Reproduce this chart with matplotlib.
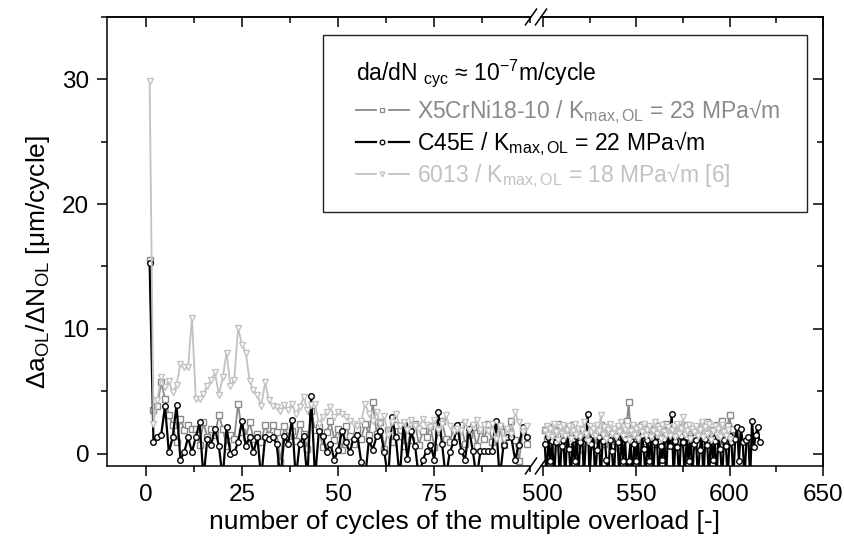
import numpy as np
import matplotlib
matplotlib.use('Agg')
import matplotlib.pyplot as plt
from matplotlib.lines import Line2D
from matplotlib.patches import Rectangle
from matplotlib.ticker import MultipleLocator, FixedLocator

plt.rcParams['font.family'] = ['Liberation Sans', 'DejaVu Sans']
plt.rcParams['mathtext.fontset'] = 'custom'
plt.rcParams['mathtext.rm'] = 'Liberation Sans'
plt.rcParams['mathtext.it'] = 'Liberation Sans:italic'
plt.rcParams['mathtext.bf'] = 'Liberation Sans:bold'

# ---------------- data ----------------
# first segment: cycles 1..99
x5_1 = [15.5, 3.5, 3.8, 5.7, 4.4, 3.1, 2.3, 0.9, 2.8, 1.9,
        2.3, 2.0, 2.0, 0.7, 2.5, 1.3, 2.0, 1.5, 3.1, 2.0,
        0.6, 1.5, 1.2, 4.0, 1.7, 1.3, 2.5, 1.2, 1.6, 0.9,
        2.3, 1.5, 2.3, 1.7, -0.7, 2.2, 1.4, 1.8, 1.0, 2.4,
        1.6, 0.4, 3.4, 1.9, 2.1, 0.5, 1.7, 2.6, 1.1, 2.0,
        0.3, 2.2, 1.4, 0.8, 2.0, 1.2, 2.4, 1.5, 4.1, 1.6,
        2.5, 0.4, 1.9, 0.9, 2.3, 1.4, 0.6, 2.0, 1.1, 2.4,
        0.7, 1.8, 1.3, 2.2, 0.5, 1.7, 2.6, 1.2, 0.9, 2.0,
        1.4, 2.3, 0.8, 1.5, 2.1, 0.6, 1.9, 1.2, 2.4, 0.9,
        1.6, 2.2, 0.7, 1.8, 2.6, 1.1, -0.6, 1.9, 0.8]
c45_1 = [15.3, 0.9, 1.3, 1.5, 3.8, 0.1, 1.3, 3.9, -0.5, 0.1,
         1.3, 0.1, 1.3, 2.5, -2, 1.2, 0.7, 2.0, 0.6, -2,
         2.1, 0.0, 0.1, 0.9, 2.6, 0.6, 1.3, 0.1, 1.3, -2,
         1.3, 1.2, 1.3, 0.8, -2, 1.4, 0.8, 2.7, -2, 0.8,
         1.4, -2, 4.6, -2, 1.8, 1.4, 0.1, 0.8, -0.5, 0.3,
         1.8, 0.9, 0.1, 1.2, 1.5, -0.7, -2, 1.1, 0.3, 1.4,
         1.8, 0.1, -2, 2.9, 1.3, -2, 2.4, -0.4, 1.8, 0.6,
         -2, -0.5, 0.2, 0.7, -0.5, 3.3, 0.8, -2, 0.1, 0.9,
         2.3, 0.2, -0.5, 2.0, 0.2, -2, 0.2, 0.2, 0.2, 0.2,
         2.6, -2, 0.7, 1.3, 1.3, -0.5, 0.7, 2.1, 1.3]
al_1 = [29.9, 2.4, 4.3, 6.1, 5.3, 5.8, 4.9, 5.5, 7.2, 6.9,
        6.9, 10.9, 4.4, 4.4, 4.8, 5.4, 5.9, 6.5, 4.7, 6.1,
        8.1, 5.4, 5.9, 10.1, 8.7, 8.1, 5.8, 5.1, 4.7, 3.8,
        5.7, 4.3, 3.8, 3.7, 3.4, 3.9, 3.5, 4.0, 3.2, 3.7,
        4.5, 3.5, 3.9, 4.0, 2.4, 2.9, 3.3, 3.7, 2.9, 3.3,
        3.2, 2.9, 2.6, 2.4, 2.2, 2.6, 4.0, 3.2, 2.6, 3.3,
        2.4, 3.0, 1.5, 2.5, 3.2, 2.2, 2.5, 1.9, 2.7, 2.2,
        2.0, 2.8, 2.3, 2.1, 2.7, 1.9, 2.4, 3.1, 2.2, 1.8,
        2.0, 1.8, 2.5, 1.9, 2.3, 2.7, 1.9, 2.3, 1.8, 2.4,
        1.2, 2.2, 1.2, 2.0, 1.6, 3.3, 2.5, 1.7, 2.2]

# second segment: cycles from 501
x5_2 = [1.9, 1.2, 2.1, 0.6, 1.5, 2.0, 1.1, 2.4, 0.9, 1.7,
        2.2, 0.5, 1.4, 1.9, 1.0, 2.3, 0.7, 1.6, 2.0, 1.2,
        0.4, 1.8, 2.2, 1.3, 0.9, 2.0, 1.5, 0.6, 1.9, 1.1,
        2.3, 1.4, 0.8, 1.7, 2.1, 1.0, 1.6, 0.5, 2.0, 1.3,
        1.8, 0.7, 2.2, 1.5, 2.6, 4.1, 1.2, 0.9, 1.8, 2.1,
        0.6, 1.5, 2.3, 1.0, 1.7, 0.4, 2.0, 1.3, 1.8, 0.8,
        2.2, 1.4, 0.9, 1.9, 1.1, 2.4, 0.7, 1.6, 2.0, 1.2,
        1.7, 0.5, 2.1, 1.4, 0.9, 1.8, 2.3, 1.0, 1.5, 0.6,
        2.0, 1.3, 1.7, 0.8, 2.2, 1.1, 1.6, 2.5, 0.9, 1.4,
        1.9, 0.7, 2.3, 1.2, 1.6, 2.6, 1.0, 1.8, 2.2, 3.1,
        1.4, 2.0]
c45_2 = [0.8, -2, 1.3, -0.6, 1.0, -2, 0.9, 1.5, -2, 0.6,
         1.1, -2, 1.6, 0.4, -2, 1.2, -0.6, 1.4, -2, 0.9,
         1.7, -2, 1.2, 3.2, -2, 0.8, 1.5, -2, 0.3, 1.3,
         -2, 1.0, 1.6, -0.5, -2, 1.1, 0.2, -2, 1.4, 0.9,
         -2, 1.7, -0.6, 1.2, -2, -0.6, 1.0, -2, 0.8, -0.6,
         1.3, -2, 1.5, 0.4, -2, 1.1, -0.6, 1.6, -2, 0.9,
         1.4, -2, 0.6, -0.5, 1.2, -2, 1.8, 0.6, 3.2, -2,
         1.0, 0.5, -2, 1.4, 0.9, -2, 1.3, -0.6, 1.6, -2,
         0.8, 1.1, -2, 0.3, 1.5, -2, 1.2, 0.7, -2, 1.6,
         -0.5, 1.0, -2, 1.3, 0.4, -2, 1.1, 0.6, -2, 1.4,
         0.9, -2, 1.2, 2.1, -0.6, 2.0, 0.9, -2, 1.1, 1.3,
         -2, 2.6, 0.5, 1.5, 2.1, 0.9]
al_2 = [1.8, 2.2, 1.5, 2.0, 1.3, 2.4, 1.7, 1.1, 2.1, 1.6,
        2.3, 1.4, 1.9, 2.2, 1.2, 1.8, 2.4, 1.5, 2.0, 1.3,
        1.9, 2.5, 1.6, 1.0, 2.2, 1.7, 2.0, 1.4, 2.3, 1.8,
        3.1, 1.5, 2.1, 1.2, 1.9, 2.4, 1.6, 2.0, 1.3, 2.2,
        1.7, 2.5, 1.4, 1.9, 2.2, 1.1, 1.8, 2.3, 1.5, 2.0,
        1.2, 2.1, 1.7, 2.4, 1.4, 1.9, 2.2, 1.3, 1.8, 2.5,
        1.6, 2.0, 1.2, 2.3, 1.7, 1.5, 2.1, 1.4, 1.9, 2.2,
        1.3, 2.4, 1.6, 2.0, 2.9, 1.5, 1.8, 2.3, 1.2, 2.0,
        1.7, 2.2, 1.4, 1.9, 2.5, 1.3, 2.1, 1.6, 2.4, 1.1,
        1.8, 2.2, 1.5, 2.0, 1.3, 2.3, 1.7, 1.4, 1.9, 1.2]

seg1_start = 1
seg2_start = 501

labels = [r'X5CrNi18-10 / K$_{\mathregular{max,OL}}$ = 23 MPa√m',
          r'C45E / K$_{\mathregular{max,OL}}$ = 22 MPa√m',
          r'6013 / K$_{\mathregular{max,OL}}$ = 18 MPa√m [6]']
legend_title = r'da/dN ${}_{\mathregular{cyc}}$ ≈ 10$^{\mathregular{-7}}$m/cycle'
xlabel = 'number of cycles of the multiple overload [-]'
ylabel = r'Δa$_{\mathregular{OL}}$/ΔN$_{\mathregular{OL}}$ [μm/cycle]'

# ---------------- styles ----------------
colors = ['#8a8a8a', '#000000', '#c2c2c2']
markers = ['s', 'o', 'v']
lws = [1.3, 1.6, 1.3]
FS_TICK = 17.5
FS_LAB = 19
FS_LEG = 16.5

series1 = [x5_1, c45_1, al_1]
series2 = [x5_2, c45_2, al_2]

W, H = 845, 552
fig = plt.figure(figsize=(W / 100, H / 100), dpi=100)

def fx(px):
    return px / W

def fy(py):
    return 1 - py / H

TOP, BOT = 17, 466
L1, R1 = 107.3, 530.5
L2, R2 = 541, 823
ax1 = fig.add_axes([fx(L1), fy(BOT), (R1 - L1) / W, (BOT - TOP) / H])
ax2 = fig.add_axes([fx(L2), fy(BOT), (R2 - L2) / W, (BOT - TOP) / H])

for ax, ser, start in ((ax1, series1, seg1_start), (ax2, series2, seg2_start)):
    for vals, c, m, lw in zip(ser, colors, markers, lws):
        xs = start + np.arange(len(vals))
        ax.plot(xs, vals, color=c, lw=lw, marker=m, ms=4.0, mfc='white',
                mec=c, mew=1.0, clip_on=True)
    ax.set_ylim(-1, 35)
    ax.yaxis.set_major_locator(MultipleLocator(10))
    ax.yaxis.set_minor_locator(MultipleLocator(5))
    for sp in ax.spines.values():
        sp.set_linewidth(1.1)

ax1.set_xlim(-10, 100)
ax1.xaxis.set_major_locator(FixedLocator([0, 25, 50, 75]))
ax1.xaxis.set_minor_locator(MultipleLocator(12.5))
ax2.set_xlim(499, 650)
ax2.xaxis.set_major_locator(FixedLocator([500, 550, 600, 650]))
ax2.xaxis.set_minor_locator(MultipleLocator(25))

ax1.spines['right'].set_visible(False)
ax2.spines['left'].set_visible(False)

for ax in (ax1, ax2):
    ax.tick_params(axis='x', which='both', direction='out', top=False,
                   labelsize=FS_TICK, width=1.1, pad=6)
    ax.tick_params(axis='x', which='major', length=7)
    ax.tick_params(axis='x', which='minor', length=4)
    sec = ax.secondary_xaxis('top', functions=(lambda v: v, lambda v: v))
    sec.set_xticks(ax.get_xticks())
    sec.xaxis.set_minor_locator(ax.xaxis.get_minor_locator())
    sec.tick_params(axis='x', which='both', direction='in', labeltop=False,
                    width=1.1)
    sec.tick_params(axis='x', which='major', length=7)
    sec.tick_params(axis='x', which='minor', length=4)
    sec.spines['top'].set_linewidth(1.1)

ax1.tick_params(axis='y', which='both', direction='out', right=False,
                labelsize=FS_TICK, width=1.1, pad=6)
ax1.tick_params(axis='y', which='major', length=7)
ax1.tick_params(axis='y', which='minor', length=4)
ax2.tick_params(axis='y', which='both', left=False, labelleft=False,
                right=False)
secy = ax2.secondary_yaxis('right', functions=(lambda v: v, lambda v: v))
secy.yaxis.set_major_locator(MultipleLocator(10))
secy.yaxis.set_minor_locator(MultipleLocator(5))
secy.tick_params(axis='y', which='both', direction='in', labelright=False,
                 width=1.1)
secy.tick_params(axis='y', which='major', length=7)
secy.tick_params(axis='y', which='minor', length=4)
secy.spines['right'].set_linewidth(1.1)

# ---------------- overlay: break marks and legend ----------------
ov = fig.add_axes([0, 0, 1, 1], zorder=10)
ov.set_xlim(0, W)
ov.set_ylim(H, 0)
ov.axis('off')
for cx in (531, 541):
    for cy in (TOP, BOT):
        ov.plot([cx - 6, cx + 6], [cy + 8.5, cy - 8.5], color='black',
                lw=1.1, solid_capstyle='butt')

ov.add_patch(Rectangle((323, 35), 484, 177, fill=True, fc='white',
                       ec='#222222', lw=1.0))
ov.text(356, 80, legend_title, fontsize=FS_LEG, color='black', va='baseline',
        ha='left')
row_y = [110, 142, 174]
for y, c, m, lw, lab in zip(row_y, colors, markers, lws, labels):
    ov.add_line(Line2D([356, 376], [y, y], color=c, lw=lw))
    ov.add_line(Line2D([389, 409], [y, y], color=c, lw=lw))
    ov.add_line(Line2D([382.5], [y], color=c, marker=m, ms=3.4, mfc='white',
                       mec=c, mew=0.9, lw=0))
    ov.text(417, y + 8, lab, fontsize=FS_LEG, color=c, va='baseline',
            ha='left')

fig.text(fx(465), fy(522), xlabel, fontsize=FS_LAB, ha='center', va='center')
fig.text(fx(38), fy(262), ylabel, fontsize=FS_LAB, ha='center', va='center',
         rotation=90)

fig.savefig('out.png', dpi=100)
